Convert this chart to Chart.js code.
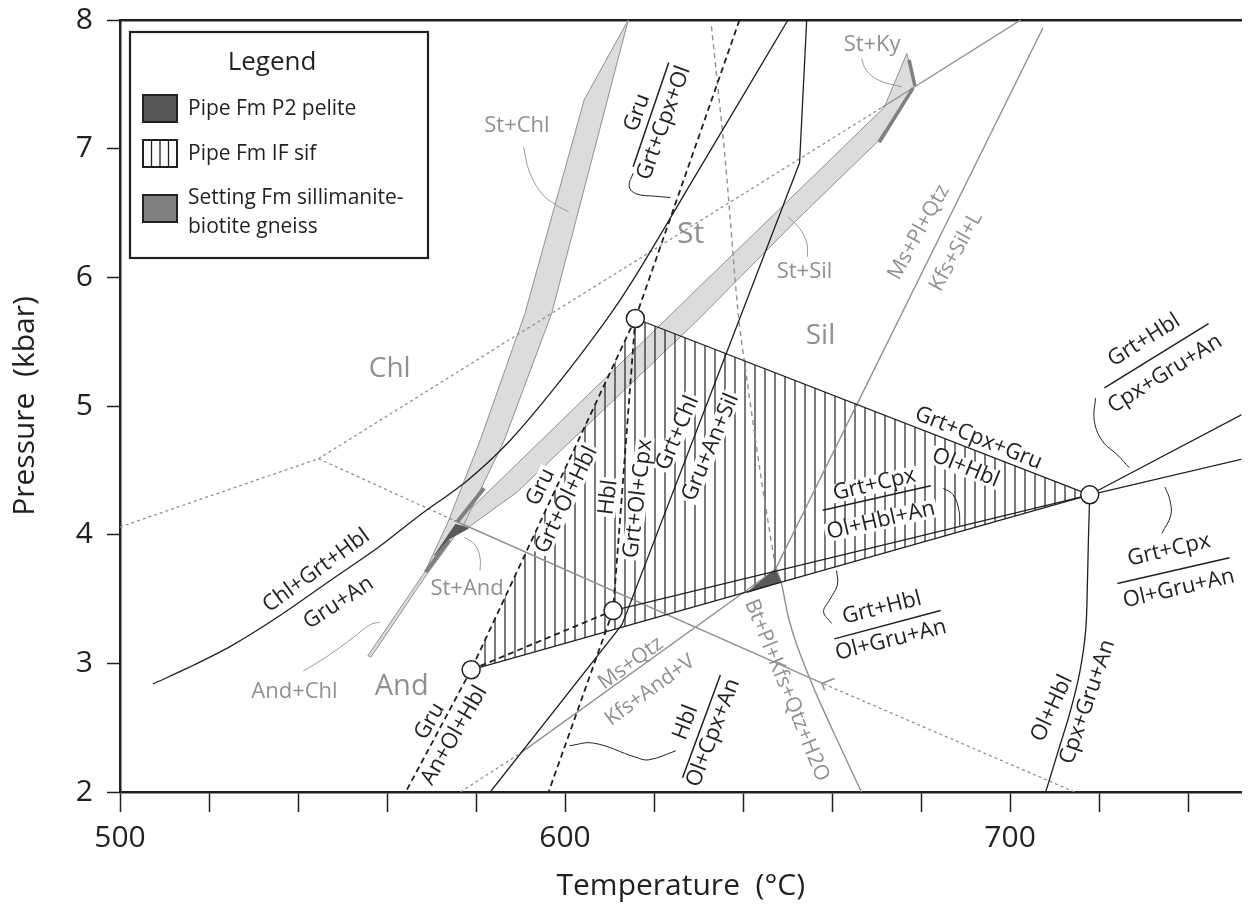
<!DOCTYPE html>
<html>
<head>
<meta charset="utf-8">
<script src="https://cdn.jsdelivr.net/npm/chart.js@4/dist/chart.umd.min.js"></script>
<style>
  body { margin: 0; background: #fff; }
</style>
</head>
<body>
<canvas id="chart" width="1252" height="909"></canvas>
<script>
// all pairs are [temperature °C, pressure kbar]

// black univariant reactions (solid)
const chlGrtHbl_GruAn = [[507.4,2.84],[515.6,2.97],[525.2,3.14],[536.3,3.38],[547.5,3.65],[558.0,3.90],[566.9,4.14],[578.0,4.42],[587.6,4.73],[598.1,5.16],[609.3,5.67],[615.3,5.98],[629.3,6.79],[650.1,8.0]];
const grtChl_GruAnSil = [[654.3,8.0],[652.7,6.89],[612.8,3.30],[583.2,2.0]];
const grtCpxGru_OlHbl = [[615.8,5.68],[717.9,4.31]];
const grtHbl_OlGruAn = [[610.8,3.41],[717.9,4.31]];
const grtCpx_OlHblAn = [[578.9,2.95],[717.9,4.31]];
const grtHbl_CpxGruAn = [[717.9,4.31],[752.4,4.94]];
const grtCpx_OlGruAn = [[717.9,4.31],[752.4,4.59]];
const olHbl_CpxGruAn = [[717.9,4.31],[717.6,3.96],[717.4,3.65],[717.0,3.26],[715.6,2.92],[713.4,2.61],[711.1,2.35],[708.0,2.0]];

// black reactions (dashed)
const gru_GrtCpxOl = [[615.8,5.68],[639.2,8.0]];
const gru_GrtOlHbl = [[615.8,5.68],[578.9,2.95]];
const hbl_GrtOlCpx = [[615.8,5.68],[610.8,3.41]];
const hbl_OlCpxAn = [[610.8,3.41],[596.3,2.0]];
const grtHbl_link = [[578.9,2.95],[610.8,3.41]];
const gru_AnOlHbl = [[578.9,2.95],[564.2,2.0]];

// invariant points
const invariantPts = [[578.9,2.95],[610.8,3.41],[615.8,5.68],[717.9,4.31]];

// pelite grid (grey)
const chlWest = [[500,4.06],[544.6,4.59]];
const chlStDotted = [[544.6,4.59],[671.2,7.32]];
const kySil = [[671.2,7.32],[702.4,8.0]];
const chlAndDotted = [[544.6,4.59],[575.1,4.11]];
const stAnd_Sil = [[575.1,4.11],[658.1,2.84]];
const meltDotted = [[658.1,2.84],[714.5,2.0]];
const stDashed = [[632.9,7.95],[636.0,6.91],[638.9,5.72],[640.9,5.20],[643.8,4.50],[647.2,3.76]];
const msPlQtz_KfsSilL = [[707.4,7.94],[647.4,3.74]];
const msQtzDotted = [[576.5,2.0],[589.9,2.30]];
const msQtz_KfsAndV = [[589.9,2.30],[646.9,3.72]];
const btPlKfsQtzH2O = [[647.4,3.74],[648.7,3.61],[650.1,3.37],[652.1,3.14],[656.1,2.79],[661.2,2.40],[666.6,2.0]];

// divariant bands
const stChlBand = [[614.2,8.0],[604.3,7.38],[591.0,5.72],[580.9,4.73],[573.6,4.09],[568.5,3.71],[555.7,3.06],[556.4,3.05],[569.1,3.70],[577.4,4.09],[586.3,4.73],[597.0,5.72],[614.2,8.0]];
const stSilBand = [[575.8,4.10],[671.7,7.32],[676.8,7.74],[678.6,7.49],[670.1,7.05],[651.6,6.43],[629.3,5.65],[589.2,4.33],[578.0,4.05],[575.8,4.10]];

// P-T estimates
const sifField = [[578.9,2.95],[615.8,5.68],[717.9,4.31],[578.9,2.95]];
const peliteA = [[570.7,3.84],[575.4,4.08],[578.3,4.05],[573.6,3.96],[570.7,3.84]];
const peliteB = [[640.9,3.55],[647.2,3.73],[648.5,3.63],[640.9,3.55]];
const settingA = [[677.3,7.69],[678.6,7.49]];
const settingB = [[670.6,7.05],[678.2,7.47]];
const settingC = [[575.8,4.10],[581.8,4.36]];
const settingD = [[568.7,3.71],[574.0,3.96]];

// label leaders
const leadStChl = [[590.7,7.01],[591.9,6.83],[594.8,6.65],[598.1,6.56],[600.8,6.51]];
const leadStSil = [[650.1,6.47],[652.7,6.38],[654.3,6.27],[654.5,6.16]];
const leadStKy = [[666.6,7.70],[667.7,7.61],[670.6,7.53],[675.7,7.48]];
const leadStAnd = [[577.4,3.98],[579.8,3.92],[580.9,3.82],[580.9,3.72]];
const leadAndChl = [[541.2,2.94],[546.8,3.06],[552.4,3.20],[556.2,3.30],[558.4,3.32]];
const leadGru = [[615.3,6.81],[614.4,6.71],[615.9,6.65],[620.4,6.63],[623.7,6.62]];
const leadHbl = [[601.0,2.36],[606.4,2.38],[615.9,2.27],[618.8,2.25],[624.9,2.32]];
const leadGrtCpx = [[685.0,4.36],[687.2,4.31],[688.5,4.19],[688.7,4.07]];
const leadGrtHbl = [[661.0,3.72],[661.2,3.61],[659.4,3.49],[658.1,3.40],[659.9,3.31]];
const leadGrtHblR = [[719.2,5.06],[718.9,4.89],[720.7,4.73],[724.1,4.62],[726.8,4.52]];
const leadGrtCpxR = [[734.8,4.37],[735.9,4.27],[736.1,4.15],[734.1,4.01]];

// fraction bars of the reaction labels
const bars = [
  [[615.3,6.86],[623.3,7.67]],
  [[657.9,4.19],[682.2,4.38]],
  [[660.5,3.19],[684.4,3.41]],
  [[721.2,5.14],[744.6,5.64]],
  [[724.1,3.62],[749.3,3.82]],
  [[626.4,2.11],[634.9,2.91]]
];

const K = '#231f20', G = '#909090', BAND = '#dcdcdc', DARK = '#58595b', MID = '#808080';
const FONT = '"Open Sans", "DejaVu Sans", sans-serif';

// text: [text, T, P, angle, colour, size, knock-out]
const notes = [
  ['St+Chl', 589.2, 7.18, 0, G, 22],
  ['St+Ky', 669.0, 7.81, 0, G, 22],
  ['St', 628.2, 6.33, 0, G, 30],
  ['St+Sil', 653.8, 6.04, 0, G, 22],
  ['Sil', 657.4, 5.54, 0, G, 28],
  ['Chl', 560.6, 5.29, 0, G, 28],
  ['St+And', 578.0, 3.58, 0, G, 22],
  ['And+Chl', 539.2, 2.78, 0, G, 22],
  ['And', 563.3, 2.82, 0, G, 29],
  ['Ms+Pl+Qtz', 679.5, 6.35, -61, G, 21],
  ['Kfs+Sil+L', 687.9, 6.20, -61, G, 21],
  ['Ms+Qtz', 614.8, 3.00, -36, G, 21],
  ['Kfs+And+V', 619.1, 2.79, -36, G, 21],
  ['Bt+Pl+Kfs+Qtz+H2O', 649.8, 2.79, 68, G, 21],
  ['L', 659.0, 2.84, 68, G, 20],
  ['Gru', 616.2, 7.28, -70, K, 22],
  ['Grt+Cpx+Ol', 622.2, 7.20, -70, K, 22],
  ['Gru', 594.5, 4.37, -64, K, 22, true],
  ['Grt+Ol+Hbl', 600.3, 4.27, -64, K, 22, true],
  ['Hbl', 609.7, 4.29, -83, K, 22, true],
  ['Grt+Ol+Cpx', 616.4, 4.28, -83, K, 22, true],
  ['Grt+Chl', 625.3, 4.79, -67, K, 22, true],
  ['Gru+An+Sil', 632.7, 4.68, -67, K, 22, true],
  ['Grt+Cpx+Gru', 692.9, 4.75, 22, K, 22],
  ['Ol+Hbl', 690.0, 4.52, 22, K, 22, true],
  ['Grt+Cpx', 669.5, 4.39, -13, K, 22, true],
  ['Ol+Hbl+An', 671.0, 4.11, -13, K, 22, true],
  ['Grt+Hbl', 671.2, 3.43, -14, K, 22],
  ['Ol+Gru+An', 673.2, 3.18, -14, K, 22],
  ['Grt+Hbl', 730.1, 5.51, -32, K, 22],
  ['Cpx+Gru+An', 734.8, 5.25, -32, K, 22],
  ['Grt+Cpx', 735.7, 3.88, -13, K, 22],
  ['Ol+Gru+An', 737.9, 3.58, -13, K, 22],
  ['Ol+Hbl', 709.4, 2.65, -65, K, 22],
  ['Cpx+Gru+An', 717.4, 2.70, -71, K, 22],
  ['Chl+Grt+Hbl', 544.1, 3.72, -36, K, 22],
  ['Gru+An', 549.1, 3.47, -33, K, 22],
  ['Gru', 569.6, 2.55, -60, K, 22],
  ['An+Ol+Hbl', 575.1, 2.44, -60, K, 22],
  ['Hbl', 627.1, 2.54, -69, K, 22],
  ['Ol+Cpx+An', 633.3, 2.46, -69, K, 22]
];

const legendTitle = 'Legend';
const legendItems = [
  { kind: 'dark', lines: ['Pipe Fm P2 pelite'] },
  { kind: 'hatch', lines: ['Pipe Fm IF sif'] },
  { kind: 'mid', lines: ['Setting Fm sillimanite-', 'biotite gneiss'] }
];

function pts(a) { return a.map(p => ({ x: p[0], y: p[1] })); }
function ln(a, o) {
  return Object.assign({ data: pts(a), borderColor: K, borderWidth: 1.3, pointRadius: 0, fill: false, order: 5 }, o || {});
}

// vertical hatching for the IF sif field
const hatchCanvas = document.createElement('canvas');
hatchCanvas.width = 10; hatchCanvas.height = 10;
const hc = hatchCanvas.getContext('2d');
hc.strokeStyle = K; hc.lineWidth = 1.2;
hc.beginPath(); hc.moveTo(5, 0); hc.lineTo(5, 10); hc.stroke();
const hatch = hc.createPattern(hatchCanvas, 'repeat');

const blackDash = { borderDash: [6, 4], borderWidth: 1.8 };
const greyDot = { borderColor: G, borderDash: [3, 3], borderWidth: 1.3, order: 8 };
const greyLine = { borderColor: G, borderWidth: 1.4, order: 8 };
const greyLead = { borderColor: '#9a9a9a', borderWidth: 1, tension: 0.4, order: 8 };
const blackLead = { borderWidth: 1, tension: 0.4 };

const datasets = [
  ln(stChlBand, { fill: 'shape', backgroundColor: BAND, borderColor: G, borderWidth: 1, order: 12 }),
  ln(stSilBand, { fill: 'shape', backgroundColor: BAND, borderColor: G, borderWidth: 1, order: 12 }),
  ln(sifField, { fill: 'shape', backgroundColor: hatch, borderWidth: 0, order: 11 }),
  ln(chlWest, greyDot), ln(chlStDotted, greyDot), ln(chlAndDotted, greyDot), ln(meltDotted, greyDot), ln(msQtzDotted, greyDot),
  ln(kySil, greyLine), ln(stAnd_Sil, greyLine), ln(msPlQtz_KfsSilL, greyLine), ln(msQtz_KfsAndV, greyLine),
  ln(btPlKfsQtzH2O, Object.assign({ tension: 0.3 }, greyLine)),
  ln(stDashed, { borderColor: G, borderDash: [5, 4], borderWidth: 1.4, tension: 0.3, order: 8 }),
  ln(leadStChl, greyLead), ln(leadStSil, greyLead), ln(leadStKy, greyLead), ln(leadStAnd, greyLead), ln(leadAndChl, greyLead),
  ln(settingA, { borderColor: MID, borderWidth: 3.5, order: 7 }),
  ln(settingB, { borderColor: MID, borderWidth: 3.5, order: 7 }),
  ln(settingC, { borderColor: MID, borderWidth: 4, order: 7 }),
  ln(settingD, { borderColor: MID, borderWidth: 4, order: 7 }),
  ln(peliteA, { fill: 'shape', backgroundColor: DARK, borderColor: DARK, borderWidth: 1, order: 6 }),
  ln(peliteB, { fill: 'shape', backgroundColor: DARK, borderColor: DARK, borderWidth: 1, order: 6 }),
  ln(chlGrtHbl_GruAn, { tension: 0.3 }),
  ln(grtChl_GruAnSil), ln(grtCpxGru_OlHbl), ln(grtHbl_OlGruAn), ln(grtCpx_OlHblAn),
  ln(grtHbl_CpxGruAn), ln(grtCpx_OlGruAn),
  ln(olHbl_CpxGruAn, { tension: 0.3 }),
  ln(gru_GrtCpxOl, blackDash), ln(gru_GrtOlHbl, blackDash), ln(hbl_GrtOlCpx, blackDash),
  ln(hbl_OlCpxAn, blackDash), ln(grtHbl_link, blackDash), ln(gru_AnOlHbl, blackDash),
  ln(leadGru, blackLead), ln(leadHbl, blackLead), ln(leadGrtCpx, blackLead), ln(leadGrtHbl, blackLead),
  ln(leadGrtHblR, blackLead), ln(leadGrtCpxR, blackLead),
  ...bars.map(b => ln(b, { borderWidth: 1.5 })),
  { data: pts(invariantPts), showLine: false, pointRadius: 9, pointBackgroundColor: '#fff',
    pointBorderColor: K, pointBorderWidth: 1.5, order: 0 }
];

const textPlugin = {
  id: 'phaseText',
  afterDatasetsDraw(chart) {
    const { ctx, scales: { x, y } } = chart;
    notes.forEach(n => {
      const px = x.getPixelForValue(n[1]), py = y.getPixelForValue(n[2]);
      ctx.save();
      ctx.translate(px, py);
      ctx.rotate(n[3] * Math.PI / 180);
      ctx.font = n[5] + 'px ' + FONT;
      ctx.textAlign = 'center';
      ctx.textBaseline = 'middle';
      if (n[6]) {
        const w = ctx.measureText(n[0]).width;
        ctx.fillStyle = '#fff';
        ctx.fillRect(-w / 2 - 2, -n[5] * 0.42, w + 4, n[5] * 0.84);
      }
      ctx.fillStyle = n[4];
      ctx.fillText(n[0], 0, 0);
      ctx.restore();
    });
  }
};

const legendPlugin = {
  id: 'boxLegend',
  afterDraw(chart) {
    const { ctx, chartArea: a } = chart;
    const x0 = a.left + 10, y0 = a.top + 12;
    ctx.save();
    ctx.fillStyle = '#fff';
    ctx.fillRect(x0, y0, 298, 226);
    ctx.strokeStyle = K; ctx.lineWidth = 2.2;
    ctx.strokeRect(x0, y0, 298, 226);
    ctx.fillStyle = K;
    ctx.textBaseline = 'middle';
    ctx.textAlign = 'center';
    ctx.font = '26px ' + FONT;
    ctx.fillText(legendTitle, x0 + 142, y0 + 31);
    ctx.textAlign = 'left';
    ctx.font = '21px ' + FONT;
    const tops = [63, 108, 163];
    legendItems.forEach((it, i) => {
      const sx = x0 + 13, sy = y0 + tops[i];
      ctx.fillStyle = it.kind === 'dark' ? DARK : it.kind === 'mid' ? MID : '#fff';
      ctx.fillRect(sx, sy, 34, 27);
      if (it.kind === 'hatch') {
        ctx.strokeStyle = K; ctx.lineWidth = 1.3;
        [8.5, 17, 25.5].forEach(d => { ctx.beginPath(); ctx.moveTo(sx + d, sy); ctx.lineTo(sx + d, sy + 27); ctx.stroke(); });
      }
      ctx.strokeStyle = K; ctx.lineWidth = 2;
      ctx.strokeRect(sx, sy, 34, 27);
      ctx.fillStyle = K;
      if (it.lines.length === 1) {
        ctx.fillText(it.lines[0], x0 + 58, sy + 14);
      } else {
        ctx.fillText(it.lines[0], x0 + 58, sy + 3);
        ctx.fillText(it.lines[1], x0 + 58, sy + 32);
      }
    });
    ctx.restore();
  }
};

new Chart(document.getElementById('chart'), {
  type: 'line',
  data: { datasets: datasets },
  options: {
    responsive: false,
    animation: false,
    events: [],
    layout: { padding: { top: 20, right: 0, left: 0, bottom: 0 } },
    elements: { point: { radius: 0 }, line: { tension: 0 } },
    plugins: { legend: { display: false }, tooltip: { enabled: false } },
    scales: {
      x: {
        type: 'linear', position: 'bottom', min: 500, max: 752,
        ticks: {
          stepSize: 20, includeBounds: false, autoSkip: false, maxRotation: 0, padding: 8,
          color: K, font: { family: FONT, size: 30 },
          callback: v => (v % 100 === 0 ? String(v) : '')
        },
        grid: { drawOnChartArea: false, tickLength: 20, tickWidth: 1.5, tickColor: K },
        border: { color: K, width: 2.5 },
        title: { display: true, text: 'Temperature  (°C)', color: K, font: { family: FONT, size: 30 }, padding: { top: 0, bottom: 5 } },
        afterFit: s => { s.height = 117; s.paddingLeft = 0; s.paddingRight = 0; }
      },
      x2: {
        type: 'linear', position: 'top', min: 500, max: 752,
        ticks: { display: false },
        grid: { display: false, drawTicks: false },
        border: { color: K, width: 2.5 },
        afterFit: s => { s.height = 0; }
      },
      y: {
        type: 'linear', min: 2, max: 8,
        ticks: { stepSize: 1, padding: 14, color: K, font: { family: FONT, size: 30 } },
        grid: { drawOnChartArea: false, tickLength: 13, tickWidth: 1.5, tickColor: K },
        border: { color: K, width: 2.5 },
        title: { display: true, text: 'Pressure  (kbar)', color: K, font: { family: FONT, size: 30 }, padding: { top: 7, bottom: 0 } },
        afterFit: s => { s.width = 120; s.paddingTop = 0; s.paddingBottom = 0; }
      }
    }
  },
  plugins: [textPlugin, legendPlugin]
});
</script>
</body>
</html>
